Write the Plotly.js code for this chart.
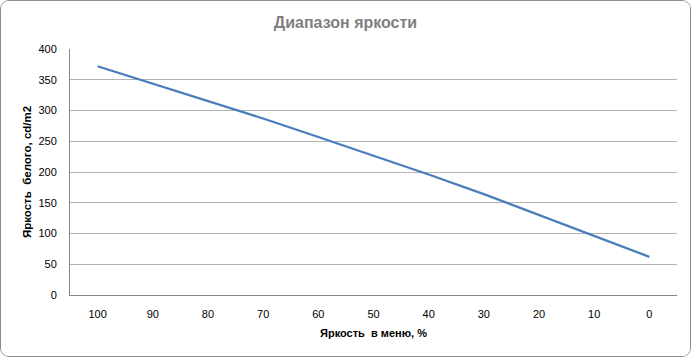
<!DOCTYPE html>
<html>
<head>
<meta charset="utf-8">
<script src="https://cdn.plot.ly/plotly-3.0.1.min.js"></script>
<style>
html,body{margin:0;padding:0;background:#fff;}
#wrap{width:689px;height:355px;border:1px solid #8c8c8c;border-radius:9px;overflow:hidden;}
#chart{width:689px;height:355px;}
</style>
</head>
<body>
<div id="wrap"><div id="chart"></div></div>
<script>
const categories = ["100","90","80","70","60","50","40","30","20","10","0"];
const brightness = [372, 344, 316, 287, 257, 227, 196, 164, 130, 96, 62];
const yTicks = [0, 50, 100, 150, 200, 250, 300, 350, 400];

const trace = {
  x: categories,
  y: brightness,
  type: 'scatter',
  mode: 'lines',
  line: {color: '#4a7ebb', width: 2.25},
  hoverinfo: 'skip'
};

const layout = {
  width: 689, height: 355,
  margin: {l: 69, r: 13, t: 48, b: 61},
  paper_bgcolor: '#ffffff',
  plot_bgcolor: '#ffffff',
  showlegend: false,
  font: {family: 'Liberation Sans, Arial, sans-serif', size: 11, color: '#000'},
  title: {
    text: '<b>Диапазон яркости</b>',
    font: {family: 'Liberation Sans, Arial, sans-serif', size: 16, color: '#7f7f7f'},
    x: 0.5, xanchor: 'center', y: 0.94, yanchor: 'middle'
  },
  xaxis: {
    type: 'category',
    range: [-0.5, categories.length - 0.5],
    showgrid: false,
    showline: true, linecolor: '#868686', linewidth: 1,
    ticks: '', ticklabelstandoff: 9,
    tickfont: {size: 11, color: '#000'},
    title: {text: '<b>Яркость  в меню, %</b>', font: {size: 11, color: '#000'}, standoff: 10},
    fixedrange: true
  },
  yaxis: {
    range: [0, 400],
    tickvals: yTicks,
    showgrid: true, gridcolor: '#b3b3b3', gridwidth: 1,
    showline: true, linecolor: '#868686', linewidth: 1,
    zeroline: false,
    ticks: '', ticklabelstandoff: 10,
    tickfont: {size: 11, color: '#000'},
    title: {text: '<b>Яркость  белого, cd/m2</b>', font: {size: 11.5, color: '#000'}, standoff: 4},
    fixedrange: true
  }
};

Plotly.newPlot('chart', [trace], layout, {displayModeBar: false, staticPlot: true});
</script>
</body>
</html>
